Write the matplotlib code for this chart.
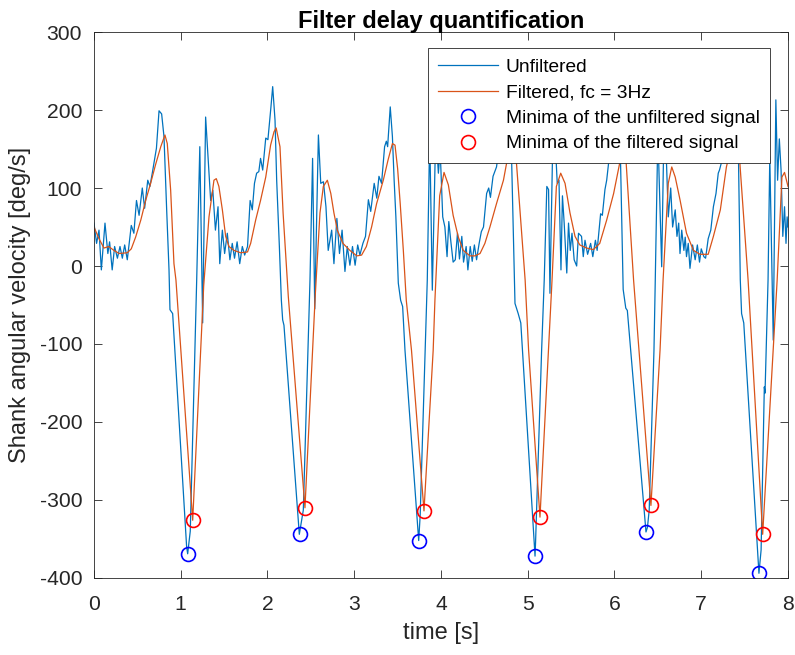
import numpy as np
import matplotlib.pyplot as plt

plt.rcParams['font.family'] = ['Liberation Sans', 'DejaVu Sans']
plt.rcParams['axes.unicode_minus'] = False

# unfiltered shank angular velocity
t_raw = [0.00, 0.03, 0.058, 0.085, 0.127, 0.16, 0.18, 0.21, 0.238, 0.27, 0.30, 0.327, 0.354, 0.384,
         0.43, 0.46, 0.49, 0.52, 0.557, 0.584, 0.62, 0.645, 0.672, 0.70, 0.72, 0.75, 0.78, 0.807,
         0.838, 0.865, 0.876, 0.907, 1.068, 1.08, 1.10, 1.11, 1.184, 1.22, 1.253, 1.287, 1.345,
         1.37, 1.40, 1.43, 1.45, 1.48, 1.506, 1.537, 1.567, 1.594, 1.62, 1.65, 1.68, 1.71, 1.737,
         1.77, 1.80, 1.825, 1.85, 1.875, 1.90, 1.92, 1.945, 1.98, 2.005, 2.04, 2.06, 2.087, 2.106,
         2.137, 2.16, 2.175, 2.19, 2.367, 2.413, 2.49, 2.52, 2.545, 2.587, 2.614, 2.645, 2.674,
         2.70, 2.74, 2.766, 2.80, 2.83, 2.86, 2.893, 2.92, 2.95, 2.98, 3.01, 3.04, 3.065, 3.10,
         3.13, 3.163, 3.19, 3.23, 3.26, 3.285, 3.315, 3.35, 3.37, 3.385, 3.415, 3.44, 3.46, 3.48,
         3.508, 3.535, 3.558, 3.585, 3.743, 3.76, 3.842, 3.87, 3.90, 3.94, 3.97, 3.99, 4.02, 4.045,
         4.07, 4.09, 4.115, 4.14, 4.165, 4.19, 4.213, 4.24, 4.26, 4.29, 4.31, 4.337, 4.36, 4.385,
         4.41, 4.44, 4.465, 4.49, 4.526, 4.55, 4.57, 4.60, 4.64, 4.68, 4.72, 4.75, 4.78, 4.815,
         4.853, 4.89, 4.92, 5.084, 5.09, 5.16, 5.19, 5.22, 5.24, 5.256, 5.287, 5.31, 5.34, 5.36,
         5.383, 5.40, 5.42, 5.45, 5.47, 5.49, 5.51, 5.535, 5.564, 5.585, 5.62, 5.64, 5.66, 5.69,
         5.725, 5.75, 5.78, 5.80, 5.84, 5.86, 5.89, 5.91, 5.95, 6.00, 6.04, 6.07, 6.10, 6.13,
         6.148, 6.363, 6.38, 6.40, 6.455, 6.47, 6.50, 6.544, 6.57, 6.60, 6.62, 6.648, 6.67, 6.70,
         6.72, 6.74, 6.755, 6.775, 6.80, 6.815, 6.83, 6.85, 6.87, 6.90, 6.93, 6.955, 6.98, 7.00,
         7.03, 7.05, 7.08, 7.11, 7.14, 7.17, 7.196, 7.21, 7.25, 7.30, 7.35, 7.40, 7.43, 7.45,
         7.465, 7.49, 7.665, 7.69, 7.727, 7.735, 7.77, 7.79, 7.83, 7.86, 7.88, 7.90, 7.92, 7.94,
         7.96, 7.977, 7.99, 8.00]
v_raw = [55, 29, 46, -5, 55, 16, 31, -5, 25, 10, 25, 10, 27, 8,
         52, 42, 84, 65, 100, 74, 110, 102, 119, 138, 151, 199, 195, 166,
         72, -5, -56, -61, -360, -369, -349, -340, -18, 153, -73, 191, 84,
         97, 46, 76, 3, 46, 16, 42, 8, 29, 10, 31, 3, 25, 14,
         25, 84, 72, 106, 119, 121, 138, 123, 164, 162, 204, 230, 187, 110,
         25, -44, -69, -76, -344, -313, -18, 138, -55, 168, 106, 108, 76,
         20, 46, 3, 61, 16, 46, -7, 25, 1, 25, 1, 27, 14, 29,
         38, 85, 70, 106, 87, 115, 106, 153, 160, 153, 204, 166, 110, 63,
         -22, -44, -52, -108, -352, -320, -18, 170, -31, 175, 119, 150, 63, 50,
         12, 57, 30, 5, 8, 42, 9, 38, 5, 25, -5, 25, 6, 27,
         8, 29, 44, 50, 93, 100, 88, 115, 127, 160, 190, 210, 175, 132,
         -48, -61, -73, -372, -355, -108, -18, 102, 98, -35, 150, 175, 106, 110,
         -5, 90, 55, -9, 55, 20, 42, 8, 0, 42, 38, 12, 33, 15,
         29, 12, 33, 20, 67, 65, 98, 110, 150, 190, 170, 132, -30, -54,
         -57, -341, -335, -313, -108, -18, 170, -1, 175, 130, 63, 100, 50, 72,
         38, 55, 16, 46, 20, 37, 12, 29, -3, 27, 8, 27, 5, 22,
         12, 10, 35, 46, 76, 93, 119, 123, 140, 170, 200, 180, 132, -18,
         -61, -73, -394, -364, -155, -163, -18, 140, -95, 213, 110, 163, 123, 38,
         76, 29, 63, 50]

# filtered signal, fc = 3 Hz
t_filt = [0.00, 0.058, 0.115, 0.17, 0.23, 0.29, 0.384, 0.43, 0.48, 0.54, 0.596, 0.653, 0.71, 0.77,
          0.818, 0.845, 0.884, 0.922, 0.945, 1.138, 1.265, 1.326, 1.383, 1.41, 1.44, 1.48, 1.518,
          1.556, 1.614, 1.69, 1.77, 1.806, 1.864, 1.92, 1.98, 2.036, 2.075, 2.10, 2.144, 2.18,
          2.24, 2.432, 2.55, 2.605, 2.644, 2.69, 2.73, 2.766, 2.805, 2.87, 2.95, 3.03, 3.085,
          3.14, 3.20, 3.258, 3.335, 3.39, 3.44, 3.47, 3.50, 3.53, 3.566, 3.60, 3.66, 3.804, 3.91,
          3.93, 3.985, 4.035, 4.085, 4.14, 4.20, 4.257, 4.334, 4.39, 4.45, 4.506, 4.564, 4.64,
          4.72, 4.77, 4.82, 4.85, 4.87, 4.97, 5.01, 5.141, 5.28, 5.33, 5.38, 5.43, 5.487, 5.545,
          5.60, 5.68, 5.756, 5.83, 5.91, 5.99, 6.06, 6.10, 6.13, 6.22, 6.42, 6.525, 6.56, 6.62,
          6.66, 6.70, 6.755, 6.83, 6.91, 6.985, 7.08, 7.14, 7.22, 7.29, 7.35, 7.40, 7.44, 7.54,
          7.708, 7.875, 7.93, 7.96, 8.00]
v_filt = [50, 35, 23, 25, 20, 16, 17, 22, 37, 59, 84, 106, 130, 153,
          168, 157, 97, 3, -18, -326, -25, 63, 110, 112, 102, 72, 38,
          25, 20, 17, 18, 29, 59, 84, 114, 155, 172, 177, 153, 68,
          -39, -310, -39, 68, 102, 110, 93, 68, 46, 29, 20, 13, 14,
          25, 50, 80, 110, 136, 157, 155, 125, 80, 20, -44, -108, -314, -108,
          -44, 90, 120, 104, 65, 37, 20, 13, 13, 16, 29, 50, 80,
          110, 140, 158, 150, 132, -18, -108, -322, -18, 102, 119, 106, 68, 38,
          27, 23, 21, 29, 59, 93, 132, 150, 140, -18, -307, -108, -18, 106,
          127, 114, 85, 42, 20, 15, 15, 38, 72, 127, 155, 160, 140, -18,
          -344, -18, 114, 120, 102]

# detected minima
t_min_raw = [1.08, 2.37, 3.743, 5.084, 6.363, 7.665]
v_min_raw = [-369, -344, -352, -372, -341, -394]
t_min_filt = [1.138, 2.432, 3.804, 5.141, 6.42, 7.708]
v_min_filt = [-326, -310, -314, -322, -307, -344]

fig = plt.figure(figsize=(7.95, 6.55), dpi=100)
ax = fig.add_axes([0.1182, 0.1176, 0.873, 0.8335])

ax.plot(t_raw, v_raw, color='#0072BD', lw=0.9, label='Unfiltered')
ax.plot(t_filt, v_filt, color='#D95319', lw=0.9, label='Filtered, fc = 3Hz')
ax.plot(t_min_raw, v_min_raw, 'o', mfc='none', mec='b', ms=10, mew=1.2, ls='none',
        label='Minima of the unfiltered signal')
ax.plot(t_min_filt, v_min_filt, 'o', mfc='none', mec='r', ms=10, mew=1.2, ls='none',
        label='Minima of the filtered signal')

ax.set_xlim(0, 8)
ax.set_ylim(-400, 300)
ax.set_xticks(np.arange(0, 9, 1))
ax.set_yticks(np.arange(-400, 301, 100))
ax.tick_params(direction='in', length=6, width=0.6, labelsize=15.2, colors='#262626',
               top=True, right=True)
ax.tick_params(axis='x', pad=12)
ax.tick_params(axis='y', pad=8.5)
for s in ax.spines.values():
    s.set_linewidth(0.6)
    s.set_color('#262626')

ax.set_xlabel('time [s]', fontsize=17, color='#262626', labelpad=6)
ax.set_ylabel('Shank angular velocity [deg/s]', fontsize=17, color='#262626', labelpad=6)
ax.set_title('Filter delay quantification', fontsize=17, fontweight='bold', pad=3)

leg = ax.legend(loc='upper right', bbox_to_anchor=(0.974, 0.971), fontsize=13.8,
                fancybox=False, framealpha=1, edgecolor='#262626', borderaxespad=0,
                handlelength=3.1, handletextpad=0.4, borderpad=0.55, labelspacing=0.42)
leg.get_frame().set_linewidth(0.6)

fig.savefig('out.png', dpi=100)
